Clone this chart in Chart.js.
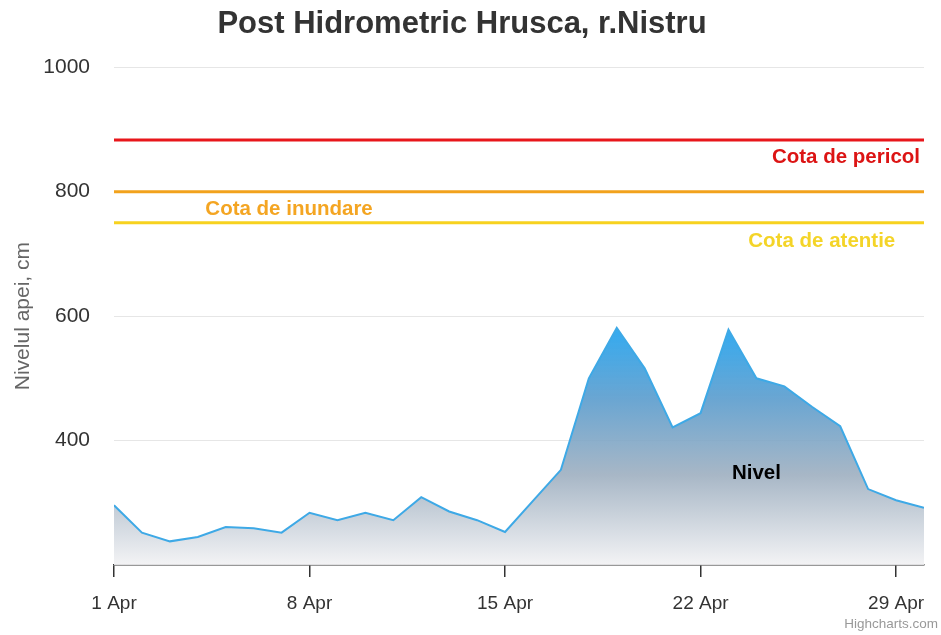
<!DOCTYPE html>
<html>
<head>
<meta charset="utf-8">
<script src="https://cdn.jsdelivr.net/npm/chart.js@4/dist/chart.umd.min.js"></script>
<style>
  html, body { margin: 0; padding: 0; background: #fff; }
  #wrap { width: 941px; height: 635px; }
</style>
</head>
<body>
<div id="wrap"><canvas id="chart"></canvas></div>
<script>
// water level, cm, one value per day, 1 Apr .. 30 Apr
const levels = [296, 252, 238, 245, 261, 259, 252, 284, 272, 284,
                272, 309, 286, 272, 253, 303, 353, 500, 581, 516,
                421, 444, 578, 500, 487, 454, 423, 322, 304, 292];
const tickLabels = ['1 Apr', '8 Apr', '15 Apr', '22 Apr', '29 Apr'];

// threshold levels
const thresholds = [
    { name: 'Cota de pericol', value: 883, color: '#e8161b', text: '#dc1414' },
    { name: 'Cota de inundare', value: 800, color: '#f2a21c', text: '#f4a522' },
    { name: 'Cota de atentie', value: 750, color: '#f7d21f', text: '#f4d428' }
];

const firstDay = 0;
const lastDay = levels.length - 1;

Chart.defaults.font.family = '"Liberation Sans", Arial, Helvetica, sans-serif';

function areaGradient(context) {
    const chart = context.chart;
    const area = chart.chartArea;
    if (!area) return 'rgba(120,160,200,0.8)';
    const top = chart.scales.y.getPixelForValue(Math.max(...levels));
    const g = chart.ctx.createLinearGradient(0, top, 0, area.bottom);
    g.addColorStop(0, 'rgba(40,166,240,0.95)');
    g.addColorStop(0.3, 'rgba(90,156,205,0.9)');
    g.addColorStop(0.62, 'rgba(158,175,192,0.9)');
    g.addColorStop(1, 'rgba(242,242,244,0.9)');
    return g;
}

const labelPlugin = {
    id: 'labels',
    afterDatasetsDraw(chart) {
        const ctx = chart.ctx;
        const x = chart.scales.x;
        const y = chart.scales.y;
        ctx.save();
        ctx.font = 'bold 20.5px "Liberation Sans", Arial, sans-serif';
        ctx.textBaseline = 'middle';

        // Cota de pericol - right
        ctx.fillStyle = thresholds[0].text;
        ctx.textAlign = 'right';
        ctx.fillText(thresholds[0].name, chart.chartArea.right - 4, y.getPixelForValue(thresholds[0].value) + 17);

        // Cota de inundare - left
        ctx.fillStyle = thresholds[1].text;
        ctx.textAlign = 'left';
        ctx.fillText(thresholds[1].name, x.getPixelForValue(3.27), y.getPixelForValue(thresholds[1].value) + 18);

        // Cota de atentie - right
        ctx.fillStyle = thresholds[2].text;
        ctx.textAlign = 'right';
        ctx.fillText(thresholds[2].name, x.getPixelForValue(27.97), y.getPixelForValue(thresholds[2].value) + 19);

        // series label
        ctx.fillStyle = '#000';
        ctx.textAlign = 'center';
        ctx.fillText('Nivel', x.getPixelForValue(23), y.getPixelForValue(347));

        // credits
        ctx.font = '13.5px "Liberation Sans", Arial, sans-serif';
        ctx.fillStyle = '#999';
        ctx.textAlign = 'right';
        ctx.fillText('Highcharts.com', 938, 624);
        ctx.restore();
    }
};

const datasets = [{
    label: 'Nivel',
    data: levels.map((v, i) => ({ x: i, y: v })),
    borderColor: '#3ea9e6',
    borderWidth: 2,
    pointRadius: 0,
    tension: 0,
    fill: 'start',
    backgroundColor: areaGradient,
    order: 2
}];

thresholds.forEach(t => {
    datasets.push({
        label: t.name,
        data: [{ x: firstDay, y: t.value }, { x: lastDay, y: t.value }],
        borderColor: t.color,
        borderWidth: 3,
        pointRadius: 0,
        fill: false,
        order: 1
    });
});

new Chart(document.getElementById('chart'), {
    type: 'line',
    data: { datasets },
    options: {
        responsive: true,
        maintainAspectRatio: false,
        animation: false,
        layout: { padding: { top: 0, right: 17, bottom: 0, left: 0 } },
        plugins: {
            legend: { display: false },
            tooltip: { enabled: false },
            title: {
                display: true,
                text: 'Post Hidrometric Hrusca, r.Nistru',
                color: '#333',
                font: { size: 31, weight: 'bold' },
                padding: { top: 6, bottom: 24 }
            }
        },
        scales: {
            x: {
                type: 'linear',
                min: firstDay,
                max: lastDay,
                afterFit: s => { s.height = 70; },
                border: { color: '#333', width: 1.5 },
                grid: {
                    drawOnChartArea: false,
                    color: '#333',
                    lineWidth: 1.5,
                    tickLength: 12
                },
                ticks: {
                    stepSize: 7,
                    includeBounds: false,
                    maxRotation: 0,
                    color: '#333',
                    font: { size: 19 },
                    padding: 15,
                    callback: v => tickLabels[v / 7]
                }
            },
            y: {
                min: 200,
                max: 1000,
                afterFit: s => { s.width = 114; },
                border: { display: false },
                grid: {
                    color: c => c.tick.value === 200 ? 'rgba(0,0,0,0)' : '#e6e6e6',
                    lineWidth: 1,
                    drawTicks: false
                },
                ticks: {
                    stepSize: 200,
                    color: '#333',
                    font: { size: 21 },
                    padding: 24,
                    callback: v => v === 200 ? '' : v
                },
                title: {
                    display: true,
                    text: 'Nivelul apei, cm',
                    color: '#666',
                    font: { size: 21 },
                    padding: { top: 11, bottom: 0 }
                }
            }
        }
    },
    plugins: [labelPlugin]
});
</script>
</body>
</html>
